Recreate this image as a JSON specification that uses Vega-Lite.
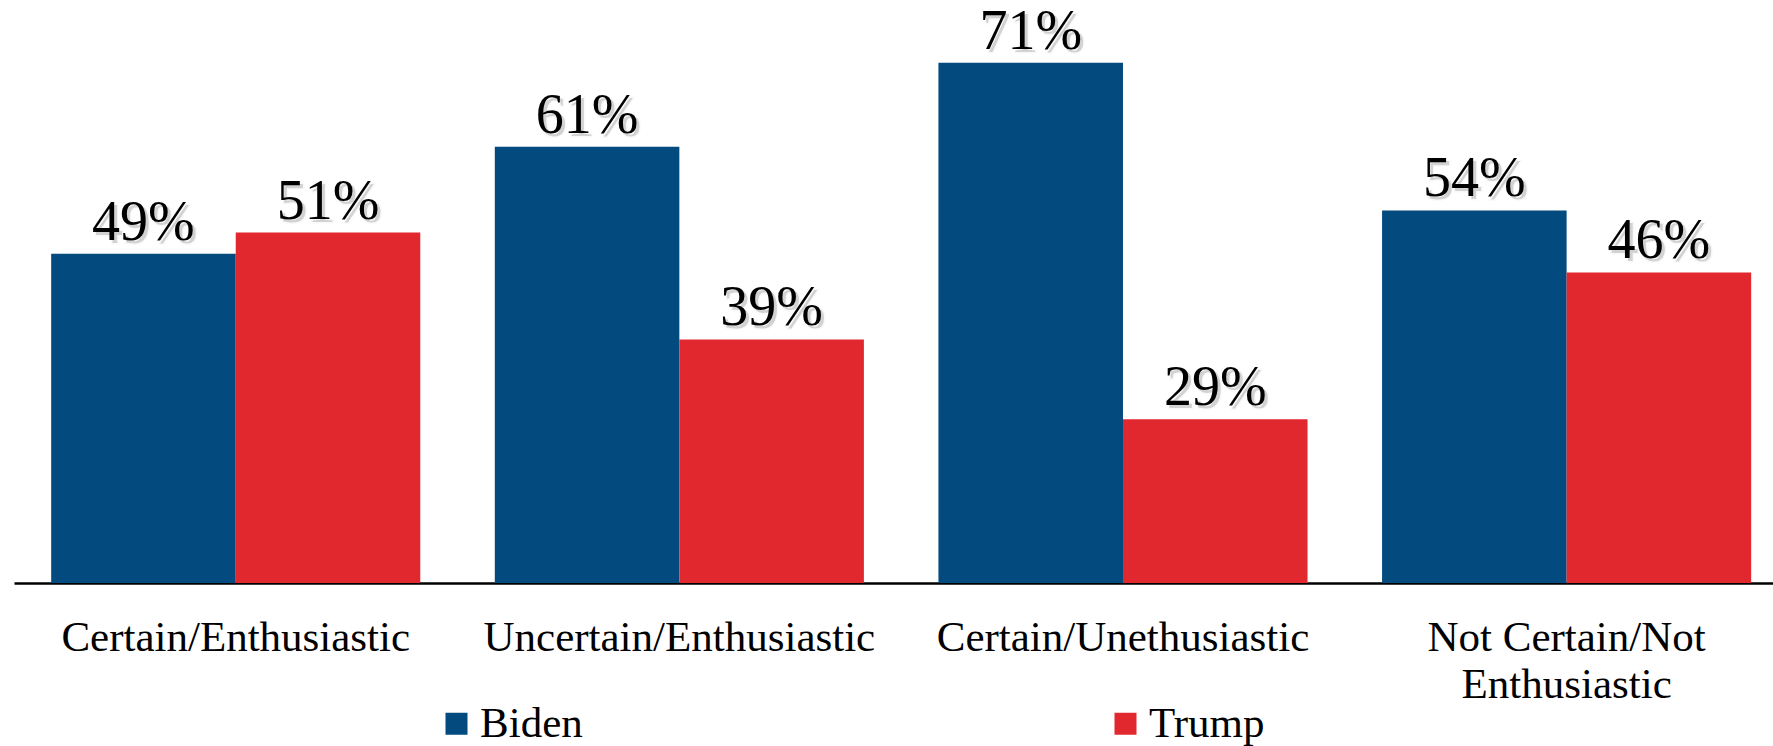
{
  "$schema": "https://vega.github.io/schema/vega-lite/v6.json",
  "width": 1759,
  "height": 583,
  "autosize": {"type": "none"},
  "padding": {"left": 14, "top": 0, "right": 0, "bottom": 163},
  "background": "white",
  "config": {"view": {"stroke": null}, "font": "Liberation Serif"},
  "data": {
    "values": [
      {"group": "Certain/Enthusiastic", "candidate": "Biden", "pct": 48.5, "label": "49%"},
      {"group": "Certain/Enthusiastic", "candidate": "Trump", "pct": 51.0, "label": "51%"},
      {"group": "Uncertain/Enthusiastic", "candidate": "Biden", "pct": 61.1, "label": "61%"},
      {"group": "Uncertain/Enthusiastic", "candidate": "Trump", "pct": 38.4, "label": "39%"},
      {"group": "Certain/Unethusiastic", "candidate": "Biden", "pct": 71.0, "label": "71%"},
      {"group": "Certain/Unethusiastic", "candidate": "Trump", "pct": 29.0, "label": "29%"},
      {"group": "Not Certain/Not Enthusiastic", "candidate": "Biden", "pct": 53.6, "label": "54%"},
      {"group": "Not Certain/Not Enthusiastic", "candidate": "Trump", "pct": 46.3, "label": "46%"}
    ]
  },
  "encoding": {
    "x": {
      "field": "group",
      "type": "nominal",
      "sort": ["Certain/Enthusiastic", "Uncertain/Enthusiastic", "Certain/Unethusiastic", "Not Certain/Not Enthusiastic"],
      "scale": {"paddingInner": 0.168, "paddingOuter": 0.0665, "align": 0.63},
      "axis": {
        "title": null,
        "domain": true,
        "domainColor": "black",
        "domainWidth": 2.5,
        "ticks": false,
        "tickSize": 0,
        "grid": false,
        "labelPadding": 67,
        "labelBaseline": "alphabetic",
        "labelAngle": 0,
        "labelFontSize": 43,
        "labelFont": "Liberation Serif",
        "labelColor": "black",
        "labelLimit": 0,
        "labelLineHeight": 47,
        "labelExpr": "datum.value == 'Not Certain/Not Enthusiastic' ? ['Not Certain/Not', 'Enthusiastic'] : datum.label"
      }
    },
    "xOffset": {
      "field": "candidate",
      "type": "nominal",
      "sort": ["Biden", "Trump"],
      "scale": {"paddingInner": 0, "paddingOuter": 0}
    },
    "y": {
      "field": "pct",
      "type": "quantitative",
      "scale": {"domain": [9.7, 78.4], "zero": false, "nice": false, "clamp": true},
      "axis": null
    }
  },
  "layer": [
    {
      "mark": {"type": "bar"},
      "encoding": {
        "y2": {"datum": 9.7},
        "color": {
          "field": "candidate",
          "type": "nominal",
          "scale": {"domain": ["Biden", "Trump"], "range": ["#034A7E", "#E1282F"]},
          "legend": {
            "orient": "none",
            "legendX": 421,
            "legendY": 702,
            "direction": "horizontal",
            "title": null,
            "symbolType": "square",
            "symbolSize": 484,
            "symbolStrokeWidth": 0,
            "symbolOpacity": 1,
            "labelFontSize": 43,
            "labelFont": "Liberation Serif",
            "labelColor": "black",
            "labelOffset": 2,
            "columnPadding": 521,
            "padding": 0,
            "labelLimit": 0
          }
        }
      }
    },
    {
      "mark": {"type": "text", "dx": 3, "dy": -11, "baseline": "alphabetic", "align": "center", "fontSize": 56, "font": "Liberation Serif", "color": "#808080", "opacity": 0.35, "stroke": "#808080", "strokeWidth": 3, "strokeOpacity": 0.12},
      "encoding": {"text": {"field": "label"}}
    },
    {
      "mark": {"type": "text", "dy": -14, "baseline": "alphabetic", "align": "center", "fontSize": 56, "font": "Liberation Serif", "color": "black"},
      "encoding": {"text": {"field": "label"}}
    }
  ]
}
